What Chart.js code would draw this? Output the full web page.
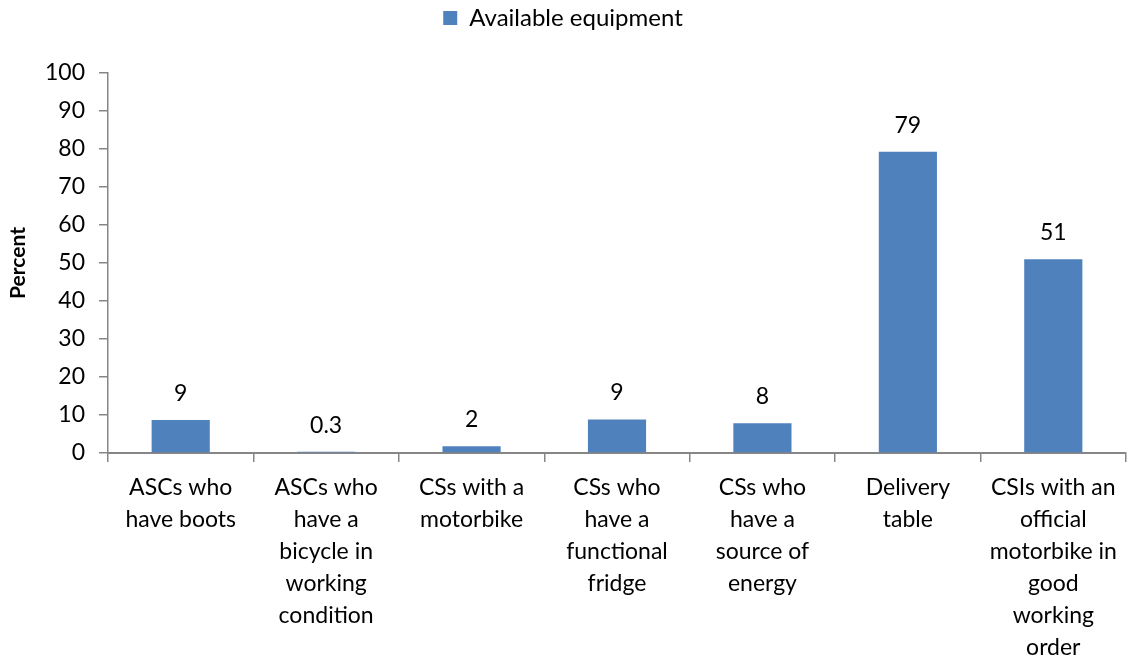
<!DOCTYPE html>
<html>
<head>
<meta charset="utf-8">
<script src="https://cdn.jsdelivr.net/npm/chart.js@4.4.0/dist/chart.umd.min.js"></script>
<style>
  html, body { margin: 0; padding: 0; background: #fff; }
  #wrap { width: 1131px; height: 667px; position: relative; }
</style>
</head>
<body>
<div id="wrap"><canvas id="chart"></canvas></div>
<script>
const categories = [
    ["ASCs who", "have boots"],
    ["ASCs who", "have a", "bicycle in", "working", "condition"],
    ["CSs with a", "motorbike"],
    ["CSs who", "have a", "functional", "fridge"],
    ["CSs who", "have a", "source of", "energy"],
    ["Delivery", "table"],
    ["CSIs with an", "official", "motorbike in", "good", "working", "order"]
];
const values = [8.7, 0.3, 1.8, 8.8, 7.8, 79.3, 51];
const valueLabels = ["9", "0.3", "2", "9", "8", "79", "51"];
const yTicks = [0, 10, 20, 30, 40, 50, 60, 70, 80, 90, 100];

const FONT = "Lato, 'Open Sans', sans-serif";
const BLUE = "#4f81bd";
const AXIS = "#868686";

// value labels above the bars
const barLabels = {
    id: "barLabels",
    afterDatasetsDraw(chart) {
        const ctx = chart.ctx;
        const meta = chart.getDatasetMeta(0);
        ctx.save();
        ctx.font = "23px " + FONT;
        ctx.fillStyle = "#000";
        ctx.textAlign = "center";
        ctx.textBaseline = "bottom";
        meta.data.forEach((bar, i) => {
            ctx.fillText(valueLabels[i], bar.x, bar.y - 15);
        });
        ctx.restore();
    }
};

// keep the legend box tall so the plot starts lower
const legendHeight = {
    id: "legendHeight",
    afterInit(chart) {
        const lg = chart.legend;
        const fit = lg.fit.bind(lg);
        lg.fit = function () {
            fit();
            this.height = 73;
            this.bottom = this.top + 73;
        };
    }
};

new Chart(document.getElementById("chart"), {
    type: "bar",
    data: {
        labels: categories,
        datasets: [{
            label: "Available equipment",
            data: values,
            backgroundColor: BLUE,
            borderWidth: 0,
            barPercentage: 0.5,
            categoryPercentage: 0.8
        }]
    },
    options: {
        responsive: true,
        maintainAspectRatio: false,
        animation: false,
        layout: { padding: { top: 0, right: 5, left: 0, bottom: 0 } },
        plugins: {
            legend: {
                position: "top",
                labels: {
                    color: "#000",
                    font: { family: FONT, size: 24 },
                    boxWidth: 14,
                    boxHeight: 14,
                    padding: 6
                }
            },
            tooltip: { enabled: false }
        },
        scales: {
            x: {
                grid: {
                    drawOnChartArea: false,
                    color: AXIS,
                    tickLength: 9,
                    lineWidth: 1.5
                },
                border: { color: AXIS, width: 2 },
                ticks: {
                    color: "#000",
                    font: { family: FONT, size: 23, lineHeight: 1.39 },
                    maxRotation: 0,
                    autoSkip: false,
                    padding: 10
                },
                afterFit(scale) { scale.height = 214; }
            },
            y: {
                min: 0,
                max: 100,
                afterBuildTicks(scale) { scale.ticks = yTicks.map(v => ({ value: v })); },
                grid: {
                    drawOnChartArea: false,
                    color: AXIS,
                    tickLength: 9,
                    lineWidth: 1.5
                },
                border: { color: AXIS, width: 1.5 },
                ticks: {
                    color: "#000",
                    font: { family: FONT, size: 23 },
                    padding: 14
                },
                title: {
                    display: true,
                    text: "Percent",
                    color: "#000",
                    font: { family: FONT, size: 21, weight: "bold" },
                    padding: { top: 6, bottom: 2 }
                },
                afterFit(scale) { scale.width = 108; }
            }
        }
    },
    plugins: [barLabels, legendHeight]
});
</script>
</body>
</html>
